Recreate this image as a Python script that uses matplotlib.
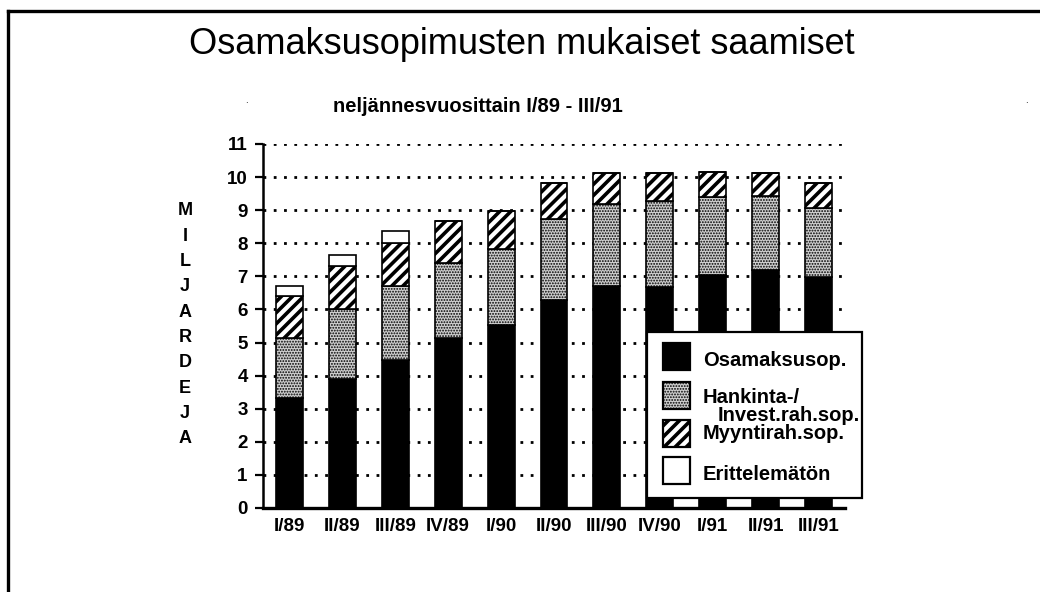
import matplotlib
matplotlib.use("Agg")
import matplotlib.pyplot as plt
from matplotlib.patches import Rectangle
from matplotlib.lines import Line2D
import numpy as np

plt.rcParams['font.family'] = ['Liberation Sans', 'DejaVu Sans']

# --- data (miljardia mk) ---
quarters = ["I/89", "II/89", "III/89", "IV/89", "I/90", "II/90",
            "III/90", "IV/90", "I/91", "II/91", "III/91"]
osamaksu = [3.31, 3.89, 4.47, 5.13, 5.53, 6.30, 6.71, 6.69, 7.04, 7.19, 6.97]
hankinta = [1.82, 2.11, 2.23, 2.26, 2.29, 2.42, 2.47, 2.59, 2.35, 2.24, 2.11]
myynti = [1.27, 1.31, 1.32, 1.28, 1.16, 1.09, 0.93, 0.83, 0.77, 0.70, 0.73]
erittelematon = [0.30, 0.33, 0.35, 0, 0, 0, 0, 0, 0, 0, 0]
yticks = list(range(0, 12))

W, H = 1040, 592
fig = plt.figure(figsize=(W / 100, H / 100), dpi=100, facecolor="white")
ax = fig.add_axes([263 / W, 1 - 508 / H, 582 / W, 364 / H])


def fx(px):
    return px / W


def fy(py):
    return 1 - py / H


x = np.arange(len(quarters))
bw = 0.51
b1 = np.array(osamaksu)
b2 = b1 + np.array(hankinta)
b3 = b2 + np.array(myynti)
stipple = "#cfcfcf"

ax.bar(x, osamaksu, bw, color="black", edgecolor="black", linewidth=1.2, zorder=3)
with plt.rc_context({"hatch.linewidth": 0.9}):
    ax.bar(x, hankinta, bw, bottom=b1, color=stipple, edgecolor="black",
           hatch="......", linewidth=1.2, zorder=3)
with plt.rc_context({"hatch.linewidth": 2.6}):
    ax.bar(x, myynti, bw, bottom=b2, color="white", edgecolor="black",
           hatch="///", linewidth=1.2, zorder=3)
ax.bar(x, erittelematon, bw, bottom=b3, color="white", edgecolor="black",
       linewidth=1.2, zorder=3)

ax.set_xlim(-0.5, 10.5)
ax.set_ylim(0, 11)
ax.set_yticks(yticks)
ax.set_yticklabels([str(t) for t in yticks], fontsize=13.5, fontweight="bold")
ax.set_xticks(x)
ax.set_xticklabels(quarters, fontsize=13.5, fontweight="bold")
ax.tick_params(axis="x", length=0, pad=7)
ax.tick_params(axis="y", length=6, width=1.6, pad=5, direction="out")

for sp in ["top", "right"]:
    ax.spines[sp].set_visible(False)
ax.spines["left"].set_linewidth(1.8)
ax.spines["bottom"].set_linewidth(2.4)
ax.spines["bottom"].set_zorder(4)

ax.yaxis.grid(True, linestyle=(0, (1, 2.7)), linewidth=2, color="black", zorder=0)
ax.set_axisbelow(True)

# titles
fig.text(fx(522), fy(45), "Osamaksusopimusten mukaiset saamiset",
         fontsize=26, ha="center", va="center")
fig.text(fx(478), fy(106), "neljännesvuosittain I/89 - III/91",
         fontsize=14.5, fontweight="bold", ha="center", va="center")

# vertical y label
for i, ch in enumerate("MILJARDEJA"):
    fig.text(fx(185), fy(211 + i * 25.3), ch, fontsize=13, fontweight="bold",
             ha="center", va="center")

# legend (drawn by hand)
ax.add_patch(Rectangle((fx(647), fy(498)), fx(862) - fx(647), fy(332) - fy(498),
                       transform=fig.transFigure, facecolor="white",
                       edgecolor="black", linewidth=1.6, zorder=6, clip_on=False))
sw = 27
entries = [
    (343, dict(facecolor="black"), None),
    (382, dict(facecolor=stipple, hatch="......"), 0.9),
    (420, dict(facecolor="white", hatch="///"), 2.6),
    (457, dict(facecolor="white"), None),
]
for top, style, hlw in entries:
    rc = {"hatch.linewidth": hlw} if hlw else {}
    with plt.rc_context(rc):
        ax.add_patch(Rectangle((fx(663), fy(top + sw)), fx(sw), sw / H,
                               transform=fig.transFigure, edgecolor="black",
                               linewidth=1.6, zorder=7, clip_on=False, **style))

leg_texts = [
    (703, 366, "Osamaksusop."),
    (703, 403, "Hankinta-/"),
    (718, 421, "Invest.rah.sop."),
    (703, 439, "Myyntirah.sop."),
    (703, 480, "Erittelemätön"),
]
for px, py, s in leg_texts:
    t = fig.text(fx(px), fy(py), s, fontsize=14.5, fontweight="bold",
                 ha="left", va="baseline")
    t.set_zorder(8)

# page frame (top and left edges)
fig.add_artist(Line2D([fx(8), fx(1040)], [fy(11), fy(11)], color="black", linewidth=2.4))
fig.add_artist(Line2D([fx(8), fx(8)], [fy(11), 0], color="black", linewidth=2.4))

# small specks from the original scan
fig.text(fx(246), fy(100), ".", fontsize=7, ha="center", va="center")
fig.text(fx(1026), fy(100), ".", fontsize=7, ha="center", va="center")

fig.savefig("out.png", dpi=100, facecolor="white")
